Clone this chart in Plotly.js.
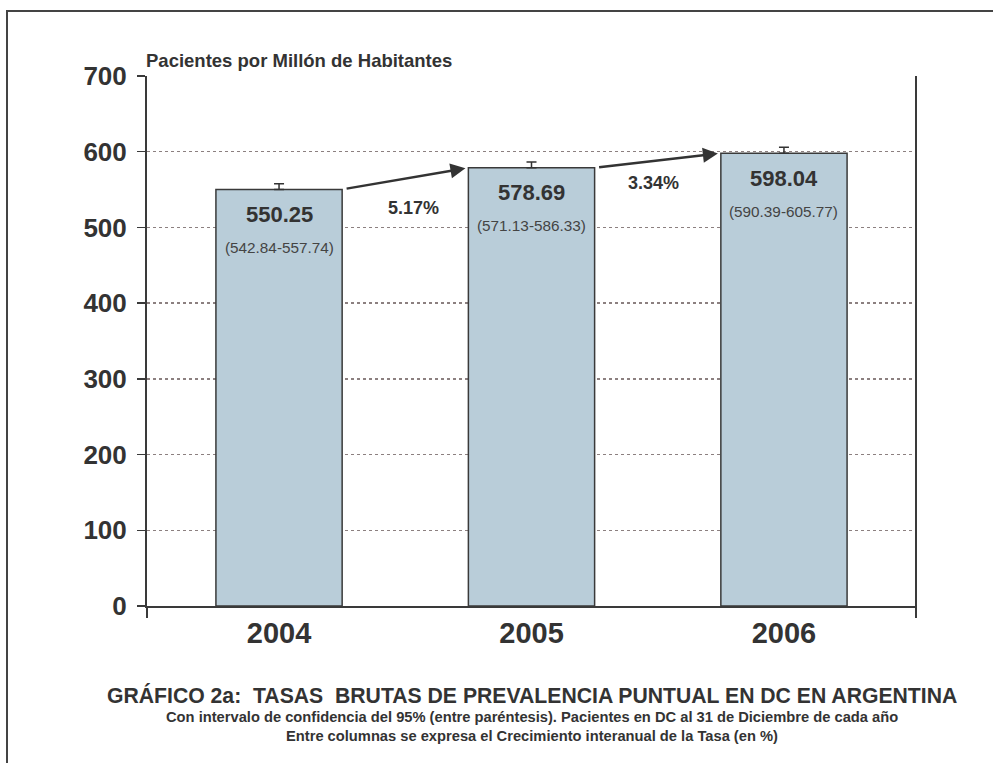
<!DOCTYPE html>
<html>
<head>
<meta charset="utf-8">
<script src="https://cdn.plot.ly/plotly-3.0.1.min.js"></script>
<style>html,body{margin:0;padding:0;background:#fff;}#chart{width:993px;height:763px;}</style>
</head>
<body>
<div id="chart"></div>
<script>
// ---- data ----
var years = ["2004", "2005", "2006"];
var rates = [550.25, 578.69, 598.04];
var ciLow = [542.84, 571.13, 590.39];
var ciHigh = [557.74, 586.33, 605.77];
var ciLabels = ["(542.84-557.74)", "(571.13-586.33)", "(590.39-605.77)"];
var growthLabels = ["5.17%", "3.34%"];
var yTicks = [0, 100, 200, 300, 400, 500, 600, 700];

var FONT = "Liberation Sans, Arial, Helvetica, sans-serif";
var TXT = "#333333";

// plot area in pixels
var W = 993, H = 763;
var L = 147, R = 916, T = 76, B = 606;
var pw = R - L, ph = B - T;
function px2paperX(px) { return (px - L) / pw; }
function px2paperY(py) { return (B - py) / ph; }

var trace = {
  type: "bar",
  x: years,
  y: rates,
  marker: { color: "#b9cdd9", line: { color: "#3a3a3a", width: 1.5 } },
  error_y: {
    type: "data", symmetric: false,
    array: ciHigh.map(function (v, i) { return v - rates[i]; }),
    arrayminus: rates.map(function () { return 0; }),
    color: "#333", thickness: 1.5, width: 5
  },
  hoverinfo: "skip"
};

var annotations = [];
// value and CI labels inside bars
rates.forEach(function (v, i) {
  annotations.push({
    x: i, y: v, xref: "x", yref: "y", text: "<b>" + v.toFixed(2) + "</b>",
    showarrow: false, yanchor: "middle", yshift: -25,
    font: { family: FONT, size: 22, color: TXT }
  });
  annotations.push({
    x: i, y: v, xref: "x", yref: "y", text: ciLabels[i],
    showarrow: false, yanchor: "middle", yshift: -58,
    font: { family: FONT, size: 15.3, color: "#444" }
  });
});
// growth arrows between bars
var gShiftX = [8, -4], gShiftY = [-29, -22];
growthLabels.forEach(function (g, i) {
  annotations.push({
    x: i + 1 - 0.25, y: rates[i + 1], xref: "x", yref: "y",
    ax: i + 0.25, ay: rates[i], axref: "x", ayref: "y",
    showarrow: true, arrowhead: 2, arrowsize: 1.2, arrowwidth: 2.5,
    arrowcolor: "#333", standoff: 3, startstandoff: 3, text: ""
  });
  annotations.push({
    x: i + 0.5, y: (rates[i] + rates[i + 1]) / 2, xref: "x", yref: "y",
    text: "<b>" + g + "</b>", showarrow: false, yanchor: "middle",
    xshift: gShiftX[i], yshift: gShiftY[i],
    font: { family: FONT, size: 18, color: TXT }
  });
});
// unit label
annotations.push({
  xref: "paper", yref: "paper", x: px2paperX(144), y: px2paperY(61), xanchor: "left", yanchor: "middle",
  text: "<b>Pacientes por Millón de Habitantes</b>", showarrow: false,
  font: { family: FONT, size: 18.5, color: TXT }
});
// titles
var titles = [
  { t: "<b>GRÁFICO 2a:\u00a0 TASAS\u00a0 BRUTAS DE PREVALENCIA PUNTUAL EN DC EN ARGENTINA</b>", y: 695, s: 21.2 },
  { t: "<b>Con intervalo de confidencia del 95% (entre paréntesis). Pacientes en DC al 31 de Diciembre de cada año</b>", y: 717, s: 14.7 },
  { t: "<b>Entre columnas se expresa el Crecimiento interanual de la Tasa (en %)</b>", y: 736, s: 14.7 }
];
titles.forEach(function (o) {
  annotations.push({
    xref: "paper", yref: "paper", x: 0.5, y: px2paperY(o.y), xanchor: "center", yanchor: "middle",
    text: o.t, showarrow: false, font: { family: FONT, size: o.s, color: TXT }
  });
});

var shapes = [
  // outer frame
  { type: "rect", xref: "paper", yref: "paper",
    x0: px2paperX(7), x1: px2paperX(1010), y0: px2paperY(780), y1: px2paperY(11),
    line: { color: "#444", width: 2 }, fillcolor: "rgba(0,0,0,0)", layer: "below" },
  // right border of plot area, extending below axis
  { type: "line", xref: "paper", yref: "paper", x0: 1, x1: 1, y0: px2paperY(618), y1: 1,
    line: { color: "#3a3a3a", width: 2 } },
  // left axis extension below zero
  { type: "line", xref: "paper", yref: "paper", x0: 0, x1: 0, y0: px2paperY(618), y1: 0,
    line: { color: "#3a3a3a", width: 2 } }
];

var layout = {
  width: W, height: H,
  margin: { l: L, r: W - R, t: T, b: H - B, pad: 0 },
  paper_bgcolor: "#fff", plot_bgcolor: "#fff",
  showlegend: false,
  bargap: 0.5,
  font: { family: FONT, color: TXT },
  xaxis: {
    type: "category", range: [-0.523, 2.523],
    showgrid: false, showline: true, linecolor: "#3a3a3a", linewidth: 2,
    ticks: "", ticklen: 0, tickfont: { family: FONT, size: 29, color: TXT, weight: "bold" },
    ticklabelstandoff: 0, zeroline: false, fixedrange: true
  },
  yaxis: {
    range: [0, 700], tickvals: yTicks, ticktext: yTicks.map(String),
    showgrid: true, gridcolor: "#8c8080", griddash: "dot", gridwidth: 1.5,
    showline: true, linecolor: "#3a3a3a", linewidth: 2,
    ticks: "outside", ticklen: 8, tickwidth: 1.5, tickcolor: "#3a3a3a",
    tickfont: { family: FONT, size: 26, color: TXT, weight: "bold" },
    ticklabelstandoff: 5, zeroline: false, fixedrange: true
  },
  annotations: annotations,
  shapes: shapes
};

Plotly.newPlot("chart", [trace], layout, { displayModeBar: false, staticPlot: true });
</script>
</body>
</html>
